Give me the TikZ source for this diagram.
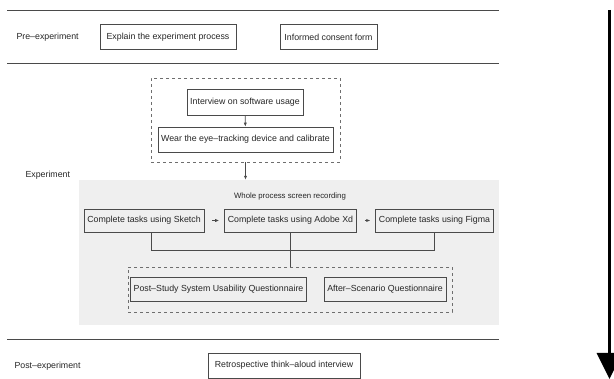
\documentclass[tikz,border=0pt]{standalone}
\usepackage{fontspec}
\setmainfont{Liberation Sans}
\usetikzlibrary{arrows.meta, positioning}
\definecolor{recg}{HTML}{EFEFEF}
\definecolor{linek}{HTML}{4A4A4A}
\begin{document}
\begin{tikzpicture}[x=1pt, y=-1pt,
                    every node/.style={font=\fontsize{8.8}{10}\selectfont, text=black!85},
                    stepbox/.style={draw=linek, line width=0.7pt, rectangle, minimum height=25pt},
                    groupbox/.style={draw=linek!80, dashed, line width=0.5pt, rectangle},
                    phase/.style={anchor=west},
                    sep/.style={draw=linek, line width=0.9pt},
                    flow/.style={draw=linek, line width=0.7pt, -{Latex[length=4pt, width=3.2pt]}}]
    \useasboundingbox (0,0) rectangle (614,379);
    % recording area
    \node[fill=recg, minimum width=420pt, minimum height=145pt, inner sep=0pt] (rec) at (289,252.5) {};
    % phase separators
    \draw[sep] (7,10) -- (499,10);
    \draw[sep] (7,63) -- (499,63);
    \draw[sep] (7,339) -- (499,339);
    % time axis
    \coordinate (ttop) at (609.5,10);
    \coordinate (tbot) at (609.5,379);
    \draw[line width=3.4pt, -{Triangle[length=26pt, width=25pt]}] (ttop) -- (tbot);
    % pre-experiment
    \node[phase] (pre) at (13,37) {Pre--experiment};
    \node[stepbox, minimum width=136pt] (expl) at (168,37) {Explain the experiment process};
    \node[stepbox, minimum width=97pt] (cons) at (328.5,37) {Informed consent form};
    % experiment
    \node[phase] (exp) at (22,175) {Experiment};
    \node[groupbox, minimum width=189pt, minimum height=84pt] (prep) at (245.5,120) {};
    \node[stepbox, minimum width=112pt, minimum height=26pt] (intv) at (245,102) {Interview on software usage};
    \node[stepbox, minimum width=169pt] (wear) at (245.5,139.5) {Wear the eye--tracking device and calibrate};
    \draw[flow] (intv) -- (wear);
    \draw[flow] (prep.south) -- (prep.south |- rec.north);
    \node[font=\fontsize{7.8}{9}\selectfont] (rlab) at (290,196) {Whole process screen recording};
    \node[stepbox, minimum width=112pt, minimum height=23pt] (skt) at (144,220.5) {Complete tasks using Sketch};
    \node[stepbox, minimum width=127pt, minimum height=23pt] (xd) at (290.5,220.5) {Complete tasks using Adobe Xd};
    \node[stepbox, minimum width=113pt, minimum height=23pt] (fig) at (434.5,220.5) {Complete tasks using Figma};
    \draw[flow, shorten <=8pt, shorten >=5pt] (skt) -- (xd);
    \draw[flow, shorten <=8pt, shorten >=5pt] (xd) -- (fig);
    \node[groupbox, minimum width=324pt, minimum height=45pt] (quest) at (290,289.5) {};
    \node[stepbox, minimum width=167pt, minimum height=24pt] (psq) at (218.5,289) {Post--Study System Usability Questionnaire};
    \node[stepbox, minimum width=116pt, minimum height=24pt] (asq) at (385,289) {After--Scenario Questionnaire};
    \draw[linek, line width=0.7pt] ([xshift=7pt]skt.south) |- (290,250.5) -| (fig.south);
    \draw[linek, line width=0.7pt] (xd.south) -- (xd.south |- quest.north);
    % post-experiment
    \node[phase] (post) at (11,366) {Post--experiment};
    \node[stepbox, minimum width=152pt] (retro) at (284,365.5) {Retrospective think--aloud interview};
\end{tikzpicture}
\end{document}
